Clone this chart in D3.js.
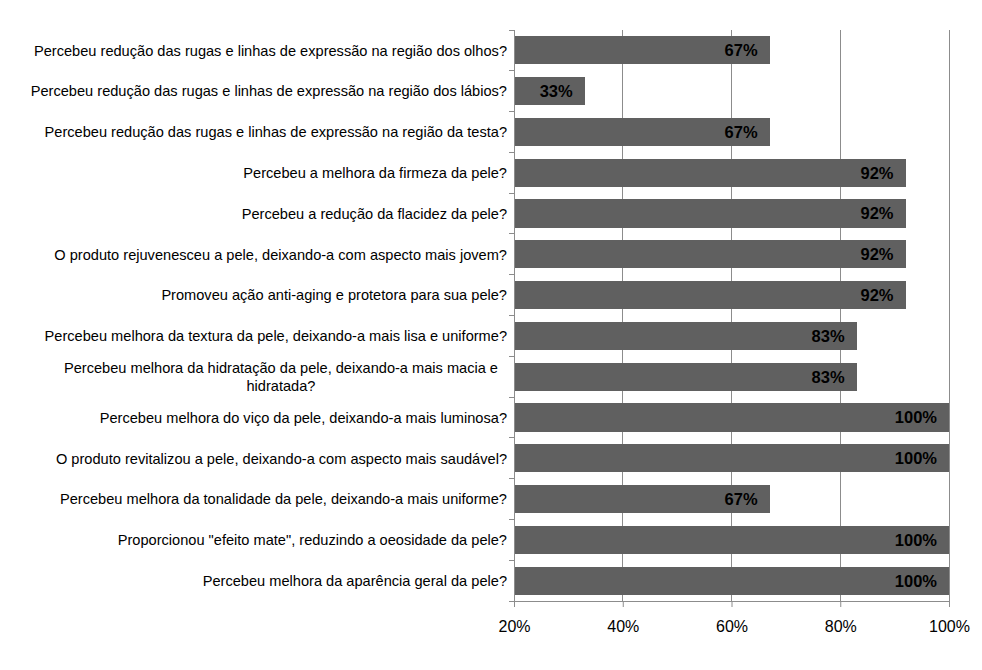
<!DOCTYPE html>
<html><head><meta charset="utf-8">
<script src="https://cdn.jsdelivr.net/npm/d3@7"></script>
<style>body{margin:0;background:#fff}svg{display:block}</style>
</head><body>
<svg id="c" width="982" height="670"></svg>
<script>
const categories = [
  "Percebeu redução das rugas e linhas de expressão na região dos olhos?",
  "Percebeu redução das rugas e linhas de expressão na região dos lábios?",
  "Percebeu redução das rugas e linhas de expressão na região da testa?",
  "Percebeu a melhora da firmeza da pele?",
  "Percebeu a redução da flacidez da pele?",
  "O produto rejuvenesceu a pele, deixando-a com aspecto mais jovem?",
  "Promoveu ação anti-aging e protetora para sua pele?",
  "Percebeu melhora da textura da pele, deixando-a mais lisa e uniforme?",
  "Percebeu melhora da hidratação da pele, deixando-a mais macia e|hidratada?",
  "Percebeu melhora do viço da pele, deixando-a mais luminosa?",
  "O produto revitalizou a pele, deixando-a com aspecto mais saudável?",
  "Percebeu melhora da tonalidade da pele, deixando-a mais uniforme?",
  "Proporcionou \"efeito mate\", reduzindo a oeosidade da pele?",
  "Percebeu melhora da aparência geral da pele?"
];
const values = [67, 33, 67, 92, 92, 92, 92, 83, 83, 100, 100, 67, 100, 100];
const xTicks = [20, 40, 60, 80, 100];

const svg = d3.select("#c");
const L = 514, R = 949, T = 30, B = 601;
const font = "'Liberation Sans', Arial, sans-serif";

const x = d3.scaleLinear().domain([20, 100]).range([L, R]);
const y = d3.scaleBand().domain(d3.range(categories.length)).range([T, B]).paddingInner(0.31).paddingOuter(0.155);

// gridlines
svg.append("g").selectAll("line").data(xTicks.slice(1)).join("line")
  .attr("x1", d => x(d)).attr("x2", d => x(d)).attr("y1", T).attr("y2", B)
  .attr("stroke", "#8c8c8c").attr("stroke-width", 1).attr("shape-rendering", "crispEdges");

// bars
svg.append("g").selectAll("rect").data(values).join("rect")
  .attr("x", x(20)).attr("y", (d, i) => y(i))
  .attr("width", d => x(d) - x(20)).attr("height", y.bandwidth())
  .attr("fill", "#606060").attr("shape-rendering", "crispEdges");

// data labels
svg.append("g").selectAll("text").data(values).join("text")
  .attr("x", d => x(d) - 12).attr("y", (d, i) => y(i) + y.bandwidth() / 2)
  .attr("dy", "0.36em").attr("text-anchor", "end")
  .attr("font-family", font).attr("font-size", 16.5).attr("font-weight", "bold").attr("fill", "#000")
  .text(d => d + "%");

// x axis
const xAxis = d3.axisBottom(x).tickValues(xTicks).tickFormat(d => d + "%").tickSize(6).tickSizeOuter(0);
const gx = svg.append("g").attr("transform", `translate(0,${B})`).call(xAxis);
gx.select(".domain").attr("stroke", "#8c8c8c");
gx.selectAll(".tick line").attr("stroke", "#8c8c8c");
gx.selectAll(".tick text").attr("font-family", font).attr("font-size", 16).attr("fill", "#000").attr("dy", "1.35em");

// y axis line + ticks at band boundaries
const bounds = d3.range(categories.length + 1).map(i => T + i * (B - T) / categories.length);
svg.append("line").attr("x1", L).attr("x2", L).attr("y1", T).attr("y2", B)
  .attr("stroke", "#8c8c8c").attr("shape-rendering", "crispEdges");
svg.append("g").selectAll("line").data(bounds).join("line")
  .attr("x1", L - 5).attr("x2", L).attr("y1", d => d).attr("y2", d => d)
  .attr("stroke", "#8c8c8c").attr("shape-rendering", "crispEdges");

// category labels
const gl = svg.append("g").attr("font-family", font).attr("font-size", 14.6).attr("fill", "#000");
categories.forEach((c, i) => {
  const cy = y(i) + y.bandwidth() / 2;
  const lines = c.split("|");
  if (lines.length === 1) {
    gl.append("text").attr("x", L - 7).attr("y", cy).attr("dy", "0.36em").attr("text-anchor", "end").text(c);
  } else {
    const t = gl.append("text").attr("text-anchor", "middle");
    lines.forEach((ln, k) => {
      t.append("tspan").attr("x", 0).attr("y", cy + (k - (lines.length - 1) / 2) * 18).attr("dy", "0.36em").text(ln);
    });
    const w = t.node().getBBox().width;
    t.selectAll("tspan").attr("x", L - 16 - w / 2);
  }
});
</script>
</body></html>
